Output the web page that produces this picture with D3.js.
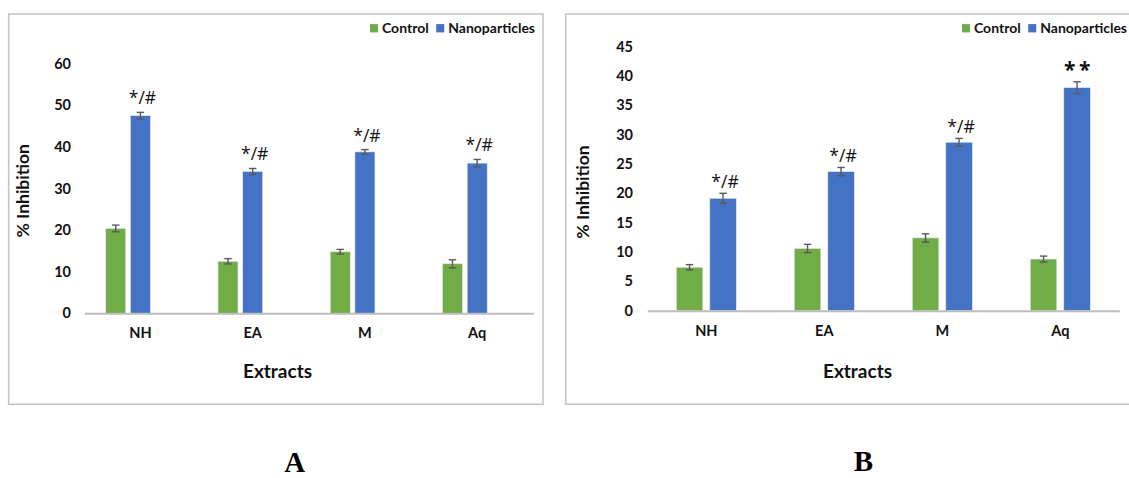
<!DOCTYPE html>
<html>
<head>
<meta charset="utf-8">
<script src="https://cdn.jsdelivr.net/npm/d3@7"></script>
<style>
  html, body { margin: 0; padding: 0; background: #ffffff; }
  svg { display: block; }
</style>
</head>
<body>
<svg id="chart" width="1129" height="478"></svg>
<script>
// Extract categories and series shared by both panels
const categories = ["NH", "EA", "M", "Aq"];
const seriesNames = ["Control", "Nanoparticles"];

// Panel A: % inhibition (mean and error)
const controlA = [20.4, 12.5, 14.8, 11.9];
const controlErrA = [0.8, 0.64, 0.56, 0.96];
const nanoA = [47.5, 34.1, 38.8, 36.1];
const nanoErrA = [0.8, 0.72, 0.56, 0.88];
const signifA = ["*/#", "*/#", "*/#", "*/#"];
const ticksA = [0, 10, 20, 30, 40, 50, 60];

// Panel B: % inhibition (mean and error)
const controlB = [7.4, 10.6, 12.4, 8.8];
const controlErrB = [0.45, 0.7, 0.7, 0.5];
const nanoB = [19.15, 23.7, 28.7, 38.0];
const nanoErrB = [0.85, 0.7, 0.65, 1.0];
const signifB = ["*/#", "*/#", "*/#", "**"];
const ticksB = [0, 5, 10, 15, 20, 25, 30, 35, 40, 45];

const colors = { Control: "#70ad47", Nanoparticles: "#4472c4" };
const svg = d3.select("#chart");
const FONT = "Lato, 'Open Sans', sans-serif";
const MARK_FONT = "'Open Sans', 'Noto Sans', sans-serif";

function drawPanel(opt) {
  const g = svg.append("g");

  // outer frame
  g.append("rect")
    .attr("x", opt.frame[0]).attr("y", opt.frame[1])
    .attr("width", opt.frame[2] - opt.frame[0])
    .attr("height", opt.frame[3] - opt.frame[1])
    .attr("fill", "#ffffff")
    .attr("stroke", "#c6c6c6").attr("stroke-width", 1.6);

  const yMax = opt.ticks[opt.ticks.length - 1];
  const y = d3.scaleLinear().domain([0, yMax])
    .range([opt.plot.bottom, opt.plot.bottom - yMax * opt.pxPerUnit]);

  const x0 = d3.scaleBand().domain(categories)
    .range([opt.plot.left, opt.plot.right]).paddingInner(0).paddingOuter(0);

  const L = opt.slots.length * opt.step;
  const p = 1 - opt.barWidth / opt.step;
  const x1 = d3.scaleBand().domain(opt.slots)
    .range([-L / 2, L / 2]).paddingInner(p).paddingOuter(p / 2);

  // y tick labels
  const yAxis = g.append("g")
    .attr("transform", `translate(${opt.plot.left},0)`)
    .call(d3.axisLeft(y).tickValues(opt.ticks).tickSize(0).tickPadding(opt.tickPad));
  yAxis.select(".domain").remove();
  yAxis.selectAll("text")
    .attr("font-family", FONT).attr("font-weight", 700)
    .attr("font-size", 14.5).attr("fill", "#111111");

  // bars
  const rows = categories.map((c, i) => ({
    cat: c,
    vals: [
      { s: "Control", v: opt.control[i], e: opt.controlErr[i] },
      { s: "Nanoparticles", v: opt.nano[i], e: opt.nanoErr[i] }
    ],
    sig: opt.signif[i]
  }));

  const grp = g.selectAll(".cat").data(rows).join("g")
    .attr("transform", d => `translate(${x0(d.cat) + x0.bandwidth() / 2},0)`);

  grp.selectAll("rect").data(d => d.vals).join("rect")
    .attr("x", d => x1(d.s))
    .attr("width", x1.bandwidth())
    .attr("y", d => y(d.v))
    .attr("height", d => y(0) - y(d.v))
    .attr("fill", d => colors[d.s])
    .attr("stroke", "#e4e8ee").attr("stroke-width", 0.6);

  // category axis (baseline)
  const xAxis = g.append("g")
    .attr("transform", `translate(0,${y(0)})`)
    .call(d3.axisBottom(x0).tickSize(0).tickSizeOuter(0));
  xAxis.select(".domain").attr("stroke", "#bdbdbd").attr("stroke-width", 2);
  xAxis.selectAll("text")
    .attr("y", opt.catLabelDy).attr("dy", "0.35em")
    .attr("font-family", FONT).attr("font-weight", 700)
    .attr("font-size", 14.5).attr("fill", "#111111");

  // error bars
  const eb = grp.selectAll(".err").data(d => d.vals).join("g")
    .attr("stroke", "#595959").attr("stroke-width", 1.4);
  eb.append("line")
    .attr("x1", d => x1(d.s) + x1.bandwidth() / 2)
    .attr("x2", d => x1(d.s) + x1.bandwidth() / 2)
    .attr("y1", d => y(d.v - d.e)).attr("y2", d => y(d.v + d.e));
  [-1, 1].forEach(sign => {
    eb.append("line")
      .attr("x1", d => x1(d.s) + x1.bandwidth() / 2 - 3.7)
      .attr("x2", d => x1(d.s) + x1.bandwidth() / 2 + 3.7)
      .attr("y1", d => y(d.v + sign * d.e)).attr("y2", d => y(d.v + sign * d.e));
  });

  // significance marks over the nanoparticle bars
  grp.append("text")
    .attr("x", x1("Nanoparticles") + x1.bandwidth() / 2 + 2)
    .attr("y", d => y(d.vals[1].v + d.vals[1].e) - opt.sigGap)
    .attr("text-anchor", "middle")
    .attr("font-family", MARK_FONT)
    .attr("font-weight", d => d.sig === "**" ? 700 : 400)
    .attr("font-size", d => d.sig === "**" ? 21 : 17.5)
    .attr("letter-spacing", d => d.sig === "**" ? 3.5 : 0)
    .attr("fill", "#111111")
    .text(d => d.sig);

  // axis titles
  g.append("text")
    .attr("transform", `translate(${opt.yTitle[0]},${opt.yTitle[1]}) rotate(-90)`)
    .attr("text-anchor", "middle").attr("dy", "0.35em")
    .attr("font-family", FONT).attr("font-weight", 700)
    .attr("font-size", 17.5).attr("fill", "#111111")
    .text("% Inhibition");

  g.append("text")
    .attr("x", opt.xTitle[0]).attr("y", opt.xTitle[1])
    .attr("text-anchor", "middle").attr("dy", "0.35em")
    .attr("font-family", FONT).attr("font-weight", 700)
    .attr("font-size", 19).attr("fill", "#111111")
    .text("Extracts");

  // legend
  const leg = g.append("g").attr("transform", `translate(${opt.legend[0]},${opt.legend[1]})`);
  let cx = 0;
  seriesNames.forEach(s => {
    leg.append("rect").attr("x", cx).attr("y", -4.2).attr("width", 8).attr("height", 8.3)
      .attr("fill", colors[s]);
    const t = leg.append("text").attr("x", cx + 12).attr("y", 0).attr("dy", "0.35em")
      .attr("font-family", FONT).attr("font-weight", 700)
      .attr("font-size", 14).attr("fill", "#111111").text(s);
    cx += 12 + t.node().getComputedTextLength() + 7.5;
  });

  // panel letter
  g.append("text")
    .attr("x", opt.letter[0]).attr("y", opt.letter[1])
    .attr("text-anchor", "middle")
    .attr("font-family", "'Liberation Serif', 'Times New Roman', serif")
    .attr("font-weight", 700).attr("font-size", 29).attr("fill", "#000")
    .text(opt.letterText);
}

drawPanel({
  frame: [8.7, 14, 543, 404.3],
  plot: { left: 84.3, right: 533.3, bottom: 313.3 },
  pxPerUnit: 4.16,
  ticks: ticksA,
  tickPad: 13.3,
  slots: ["Control", "Nanoparticles", "spacer"],
  step: 24.7, barWidth: 20,
  control: controlA, controlErr: controlErrA,
  nano: nanoA, nanoErr: nanoErrA, signif: signifA,
  sigGap: 8,
  catLabelDy: 20,
  yTitle: [23, 190.8],
  xTitle: [277.5, 371],
  legend: [370, 28.3],
  letter: [294.8, 471.5], letterText: "A"
});

drawPanel({
  frame: [565.7, 14, 1149, 404.3],
  plot: { left: 647.3, right: 1119.3, bottom: 310.7 },
  pxPerUnit: 5.87,
  ticks: ticksB,
  tickPad: 14.3,
  slots: ["Control", "Nanoparticles"],
  step: 33.5, barWidth: 26.5,
  control: controlB, controlErr: controlErrB,
  nano: nanoB, nanoErr: nanoErrB, signif: signifB,
  sigGap: 5,
  catLabelDy: 20.5,
  yTitle: [583.3, 192],
  xTitle: [857.5, 371],
  legend: [962, 28.3],
  letter: [863.5, 470.5], letterText: "B"
});
</script>
</body>
</html>
